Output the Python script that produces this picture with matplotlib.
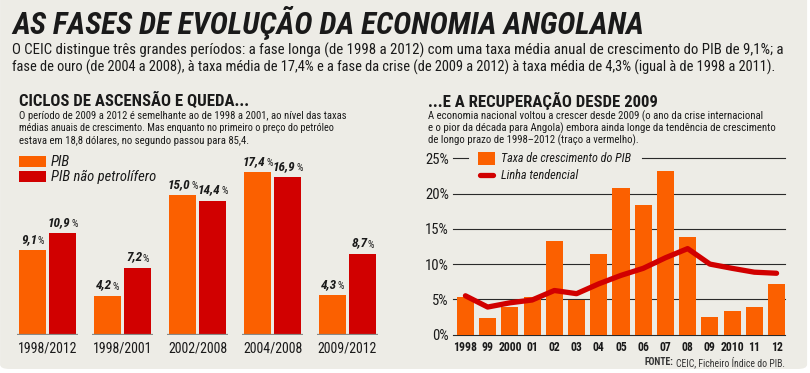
import matplotlib
matplotlib.use('Agg')
import matplotlib.pyplot as plt
from matplotlib import font_manager
from matplotlib.patches import FancyBboxPatch, Rectangle
from matplotlib.lines import Line2D

W, H = 810, 373
DPI = 100

avail = {f.name for f in font_manager.fontManager.ttflist}
COND = next((n for n in ['Roboto Condensed', 'Liberation Sans Narrow',
                         'DejaVu Sans Condensed', 'Open Sans Condensed'] if n in avail), 'DejaVu Sans')
plt.rcParams['font.family'] = [COND, 'DejaVu Sans']

# ---------------- data ----------------
periods = ['1998/2012', '1998/2001', '2002/2008', '2004/2008', '2009/2012']
pib = [9.1, 4.2, 15.0, 17.4, 4.3]
pib_nao_pet = [10.9, 7.2, 14.4, 16.9, 8.7]
pib_labels = ['9,1', '4,2', '15,0', '17,4', '4,3']
pnp_labels = ['10,9', '7,2', '14,4', '16,9', '8,7']

years = ['1998', '99', '2000', '01', '02', '03', '04', '05', '06', '07', '08',
         '09', '2010', '11', '12']
growth = [5.35, 2.4, 3.85, 5.35, 13.3, 4.95, 11.45, 20.8, 18.35, 23.2, 13.8,
          2.5, 3.4, 3.9, 7.15]
trend = [5.5, 3.9, 4.5, 4.9, 6.25, 5.8, 7.2, 8.4, 9.4, 10.9, 12.2, 10.0, 9.4,
         8.85, 8.7]
right_ticks = [0, 5, 10, 15, 20, 25]

ORANGE = '#FB6000'
RED = '#D10000'
BG = '#EDECE6'
TXT = '#1A1A1A'

fig = plt.figure(figsize=(W / DPI, H / DPI), dpi=DPI)
fig.patch.set_facecolor('white')
renderer = fig.canvas.get_renderer()


def fx(x):
    return x / W


def fy(y):
    return 1 - y / H


# panel background with rounded bottom corners
panel = FancyBboxPatch((fx(0) + 0.0001, fy(369)), fx(807), fy(-30) - fy(369),
                       boxstyle='round,pad=0,rounding_size=0.012',
                       transform=fig.transFigure, facecolor=BG, edgecolor='none',
                       zorder=-5)
fig.patches.append(panel)


def ftext(x, y, s, width=None, **kw):
    kw.setdefault('color', TXT)
    kw.setdefault('va', 'center')
    t = fig.text(fx(x), fy(y), s, **kw)
    if width is not None:
        w = t.get_window_extent(renderer).width
        t.set_fontsize(t.get_fontsize() * width / w)
    return t


# ---------------- header texts ----------------
ftext(12, 23, 'AS FASES DE EVOLUÇÃO DA ECONOMIA ANGOLANA', width=634,
      fontsize=26, fontweight='bold', fontstyle='italic')
ftext(12, 50, 'O CEIC distingue três grandes períodos: a fase longa (de 1998 a 2012) '
      'com uma taxa média anual de crescimento do PIB de 9,1%; a', width=766, fontsize=11)
ftext(12, 67, 'fase de ouro (de 2004 a 2008), à taxa média de 17,4% e a fase da crise '
      '(de 2009 a 2012) à taxa média de 4,3% (igual à de 1998 a 2011).', width=768, fontsize=11)

ftext(19, 101, 'CICLOS DE ASCENSÃO E QUEDA...', width=231, fontsize=12.5,
      fontweight='bold')
left_desc = ['O período de 2009 a 2012 é semelhante ao de 1998 a 2001, ao nível das taxas',
             'médias anuais de crescimento. Mas enquanto no primeiro o preço do petróleo',
             'estava em 18,8 dólares, no segundo passou para 85,4.']
left_w = [329, 319, 232]
for i, (s, w) in enumerate(zip(left_desc, left_w)):
    ftext(19, 116 + 12.3 * i, s, width=w, fontsize=9)

ftext(428, 101, '...E A RECUPERAÇÃO DESDE 2009', width=230, fontsize=12.5,
      fontweight='bold')
right_desc = ['A economia nacional voltou a crescer desde 2009 (o ano da crise internacional',
              'e o pior da década para Angola) embora ainda longe da tendência de crescimento',
              'de longo prazo de 1998–2012 (traço a vermelho).']
right_w = [336, 349, 211]
for i, (s, w) in enumerate(zip(right_desc, right_w)):
    ftext(428, 116 + 12.3 * i, s, width=w, fontsize=9)

# ---------------- left chart ----------------
axL = fig.add_axes([fx(10), fy(335), fx(375), fy(160) - fy(335)])
axL.set_xlim(-0.5, 4.5)
axL.set_ylim(0, 175 / 9.34)
axL.axis('off')
xs = list(range(len(periods)))
bw = 0.36
off = 0.2
axL.bar([x - off for x in xs], pib, bw, color=ORANGE, zorder=2)
axL.bar([x + off for x in xs], pib_nao_pet, bw, color=RED, zorder=2)
axL.hlines([0] * len(xs), [x - 0.413 for x in xs], [x + 0.413 for x in xs],
           color='#8A8A86', lw=1.6, zorder=3)


def value_label(ax, x, y, num):
    a = ax.annotate(num, (x, y), xytext=(0, 3), textcoords='offset points',
                    ha='right', va='bottom', fontsize=9.5, fontweight='bold',
                    fontstyle='italic', color=TXT, annotation_clip=False)
    b = ax.annotate('%', (x, y), xytext=(0, 3), textcoords='offset points',
                    ha='left', va='bottom', fontsize=7.5, color=TXT,
                    annotation_clip=False)
    w1 = a.get_window_extent(renderer).width
    w2 = b.get_window_extent(renderer).width
    dx = (w1 - w2) / 2 * 72 / DPI
    a.set_position((dx, 3))
    b.set_position((dx + 0.4, 3))


for x, v, s in zip(xs, pib, pib_labels):
    value_label(axL, x - off, v, s)
for x, v, s in zip(xs, pib_nao_pet, pnp_labels):
    value_label(axL, x + off, v, s)
for x, s in zip(xs, periods):
    axL.annotate(s, (x, 0), xytext=(0, -10), textcoords='offset points',
                 ha='center', va='center', fontsize=10, color=TXT,
                 annotation_clip=False)

# left legend
for (y0, col, lab) in [(156, ORANGE, 'PIB'), (171, RED, 'PIB não petrolífero')]:
    fig.patches.append(Rectangle((fx(19), fy(y0 + 11)), fx(27), fy(y0) - fy(y0 + 11),
                                 transform=fig.transFigure, facecolor=col,
                                 edgecolor='none', zorder=2))
    ftext(51, y0 + 6, lab, fontsize=10.5, fontstyle='italic')

# ---------------- right chart ----------------
axR = fig.add_axes([fx(453), fy(334.5), fx(332), fy(158.5) - fy(334.5)])
axR.set_facecolor('none')
axR.set_xlim(-0.56, 14.38)
axR.set_ylim(0, 25)
for s in axR.spines.values():
    s.set_visible(False)
xr = list(range(len(years)))
axR.bar(xr, growth, 0.77, color=ORANGE, zorder=2)
axR.plot(xr, trend, color=RED, lw=3.8, solid_capstyle='round',
         solid_joinstyle='round', zorder=4)
ytr = axR.get_yaxis_transform()
for t in right_ticks[:-1]:
    axR.plot([0, 1], [t, t], transform=ytr, color='#2A2A2A', lw=0.8, zorder=1,
             clip_on=False)
axR.plot([0, (468 - 453) / 332], [25, 25], transform=ytr, color='#2A2A2A',
         lw=0.8, clip_on=False)
axR.plot([(642 - 453) / 332, 1], [25, 25], transform=ytr, color='#2A2A2A',
         lw=0.8, clip_on=False)
axR.set_yticks(right_ticks)
axR.set_yticklabels([f'{t}%' for t in right_ticks])
axR.set_xticks(xr)
axR.set_xticklabels(years, fontweight='bold')
axR.tick_params(axis='y', length=0, pad=3, labelsize=10.5, labelcolor=TXT)
axR.tick_params(axis='x', length=0, pad=5, labelsize=8.5, labelcolor=TXT)

# right legend
fig.patches.append(Rectangle((fx(478), fy(165)), fx(17), fy(152) - fy(165),
                             transform=fig.transFigure, facecolor=ORANGE,
                             edgecolor='none', zorder=2))
fig.lines.append(Line2D([fx(480), fx(493)], [fy(175), fy(175)],
                        transform=fig.transFigure, color=RED, lw=3.8,
                        solid_capstyle='round'))
ftext(501, 158.5, 'Taxa de crescimento do PIB', width=130, fontsize=10,
      fontstyle='italic')
ftext(501, 175.5, 'Linha tendencial', width=77, fontsize=10, fontstyle='italic')

# source
t2 = ftext(785, 362, 'CEIC, Ficheiro Índice do PIB.', fontsize=7, ha='right',
           color='#333333')
w2 = t2.get_window_extent(renderer).width
ftext(785 - w2 - 2.5, 362, 'FONTE:', fontsize=7, ha='right', fontweight='bold',
      color='#333333')

fig.savefig('out.png', dpi=DPI, facecolor=fig.get_facecolor())
